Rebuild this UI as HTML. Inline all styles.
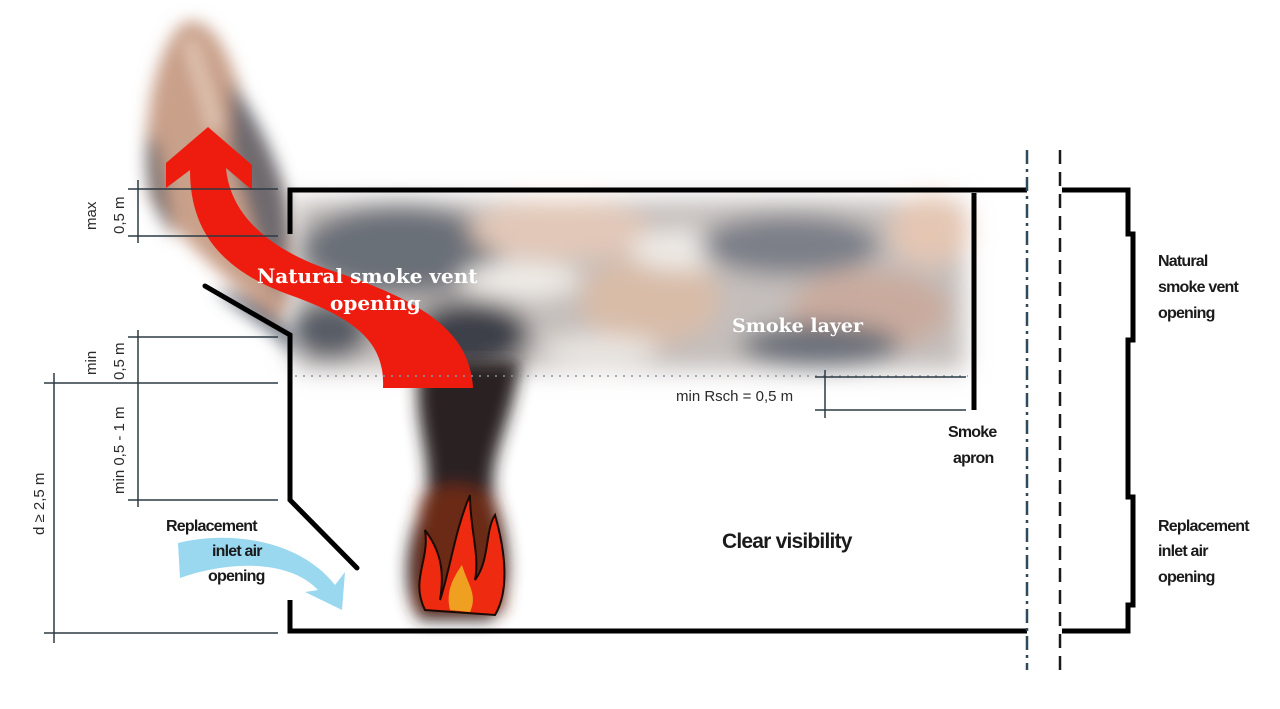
<!DOCTYPE html>
<html><head><meta charset="utf-8"><style>
html,body{margin:0;padding:0;background:#fff;}
svg{display:block;}
.s{font-family:"Liberation Sans",sans-serif;font-weight:bold;fill:#1a1a1a;letter-spacing:-0.8px;}
.d{font-family:"Liberation Sans",sans-serif;fill:#2a2a2a;font-size:15px;}
.w{font-family:"DejaVu Serif","Liberation Serif",serif;font-weight:bold;fill:#fff;}
</style></head><body>
<svg width="1280" height="709" viewBox="0 0 1280 709" xmlns="http://www.w3.org/2000/svg">
<defs>
<filter id="b8" x="-30%" y="-30%" width="160%" height="160%"><feGaussianBlur stdDeviation="8"/></filter>
<filter id="b4" x="-30%" y="-30%" width="160%" height="160%"><feGaussianBlur stdDeviation="4"/></filter>
<filter id="b14" x="-30%" y="-30%" width="160%" height="160%"><feGaussianBlur stdDeviation="12"/></filter>
</defs>
<!-- plume top-left -->
<g filter="url(#b8)">
<path d="M150,200 C140,140 150,60 180,25 C205,10 225,40 240,90 C255,140 285,170 290,210 C300,260 300,300 280,320 C250,300 200,260 150,200Z" fill="#c9a08a"/>
<path d="M230,80 C260,120 285,170 292,230 L280,300 C260,260 245,200 230,150Z" fill="#5a5e66" opacity="0.8"/>
<path d="M150,130 C140,170 150,210 175,240 L160,150Z" fill="#555a62" opacity="0.7"/>
<path d="M190,40 C200,80 210,100 215,130" stroke="#e8d0c0" stroke-width="10" fill="none"/>
<path d="M215,290 C250,320 280,335 300,360 L290,330 C270,310 240,290 215,290Z" fill="#6c7480"/>
</g>
<!-- smoke layer -->
<g filter="url(#b14)">
<rect x="295" y="200" width="670" height="170" fill="#c4bebb"/>
<ellipse cx="400" cy="250" rx="100" ry="45" fill="#6a6f78"/>
<ellipse cx="560" cy="230" rx="90" ry="30" fill="#e2c8b8"/>
<ellipse cx="520" cy="280" rx="60" ry="18" fill="#f0ece8"/>
<ellipse cx="650" cy="300" rx="70" ry="45" fill="#d8bca8"/>
<ellipse cx="680" cy="250" rx="50" ry="20" fill="#eeeae6"/>
<ellipse cx="790" cy="245" rx="90" ry="30" fill="#7b7f88"/>
<ellipse cx="870" cy="310" rx="80" ry="40" fill="#c9ab9e"/>
<ellipse cx="930" cy="230" rx="40" ry="35" fill="#e4c6b3"/>
<ellipse cx="470" cy="335" rx="60" ry="35" fill="#3d4148"/>
<ellipse cx="820" cy="345" rx="80" ry="22" fill="#6b7079"/>
<ellipse cx="330" cy="330" rx="40" ry="30" fill="#575c65"/>
<ellipse cx="600" cy="350" rx="60" ry="15" fill="#eae6e2"/>
</g>
<!-- fire column -->
<g filter="url(#b8)">
<path d="M420,360 L520,360 C515,420 485,460 495,500 C510,540 515,600 490,620 L420,620 C400,590 405,540 425,500 C435,460 410,420 420,360Z" fill="#2a2220"/>
<path d="M420,500 C440,480 470,480 495,500 L505,610 L415,610Z" fill="#6b2a18"/>
</g>
<!-- flames -->
<g stroke="#1a0a05" stroke-width="2">
<path d="M425,610 C410,580 430,560 425,530 C440,550 445,570 440,600 C450,570 455,530 470,495 C470,530 480,555 475,580 C490,560 485,530 495,515 C505,550 510,590 495,615Z" fill="#ee2a10"/>
</g>
<path d="M450,610 C445,590 455,575 462,565 C468,585 478,595 470,612Z" fill="#f0a020"/>
<!-- red arrow -->
<path d="M208,127 L252,165 L252,190 L226,168 C230,215 270,250 330,270 C420,300 470,330 473,388 L383,388 C385,345 360,320 290,295 C220,270 190,230 190,170 L166,188 L166,163 Z" fill="#ee1c0e"/>
<!-- walls -->
<g stroke="#000" stroke-width="5" fill="none" stroke-linecap="butt">
<polyline points="290,234 290,190 1027,190"/>
<polyline points="205,286 290,335 290,500 357,568" stroke-linecap="round"/>
<polyline points="290,600 290,631 1027,631"/>
<line x1="974" y1="193" x2="974" y2="410"/>
<polyline points="1062,190 1128,190 1128,234 1133,234 1133,340 1128,340 1128,497 1133,497 1133,605 1128,605 1128,631 1062,631"/>
</g>
<!-- dashed lines -->
<line x1="1027" y1="150" x2="1027" y2="670" stroke="#2e4a5c" stroke-width="2.5" stroke-dasharray="14,5,3,5"/>
<line x1="1060" y1="150" x2="1060" y2="670" stroke="#1a1a1a" stroke-width="2.5" stroke-dasharray="14,8"/>
<line x1="295" y1="376" x2="968" y2="376" stroke="#8a95a0" stroke-width="1.5" stroke-dasharray="2,6"/>
<!-- dimension lines -->
<g stroke="#2c3a44" stroke-width="1.5">
<line x1="128" y1="189" x2="278" y2="189"/><line x1="128" y1="236" x2="278" y2="236"/>
<line x1="138" y1="180" x2="138" y2="243"/>
<line x1="128" y1="337" x2="278" y2="337"/><line x1="44" y1="383" x2="278" y2="383"/>
<line x1="128" y1="500" x2="278" y2="500"/>
<line x1="138" y1="330" x2="138" y2="507"/>
<line x1="44" y1="633" x2="278" y2="633"/>
<line x1="54" y1="373" x2="54" y2="643"/>
<line x1="815" y1="377" x2="966" y2="377"/><line x1="815" y1="410" x2="966" y2="410"/>
<line x1="825" y1="370" x2="825" y2="418"/>
</g>
<!-- blue arrow -->
<path d="M178,543 C230,530 300,540 335,585 L345,572 L342,610 L305,592 L318,590 C290,560 230,560 180,578Z" fill="#8fd4ee" opacity="0.9"/>
<g class="d">
<text transform="translate(96,230) rotate(-90)">max</text>
<text transform="translate(124,234) rotate(-90)">0,5 m</text>
<text transform="translate(96,375) rotate(-90)">min</text>
<text transform="translate(124,380) rotate(-90)">0,5 m</text>
<text transform="translate(124,494) rotate(-90)">min 0,5 - 1 m</text>
<text transform="translate(44,535) rotate(-90)">d ≥ 2,5 m</text>
<text x="676" y="401">min Rsch = 0,5 m</text>
</g>
<g class="s" font-size="16">
<text x="166" y="531">Replacement</text>
<text x="212" y="556">inlet air</text>
<text x="208" y="581">opening</text>
<text x="948" y="437">Smoke</text>
<text x="953" y="463">apron</text>
<text x="1158" y="266">Natural</text>
<text x="1158" y="292">smoke vent</text>
<text x="1158" y="318">opening</text>
<text x="1158" y="531">Replacement</text>
<text x="1158" y="556">inlet air</text>
<text x="1158" y="582">opening</text>
<text x="722" y="548" font-size="21">Clear visibility</text>
</g>
<g class="w">
<text x="257" y="283" font-size="20">Natural smoke vent</text>
<text x="330" y="310" font-size="20">opening</text>
<text x="732" y="332" font-size="19">Smoke layer</text>
</g>
</svg>
</body></html>
